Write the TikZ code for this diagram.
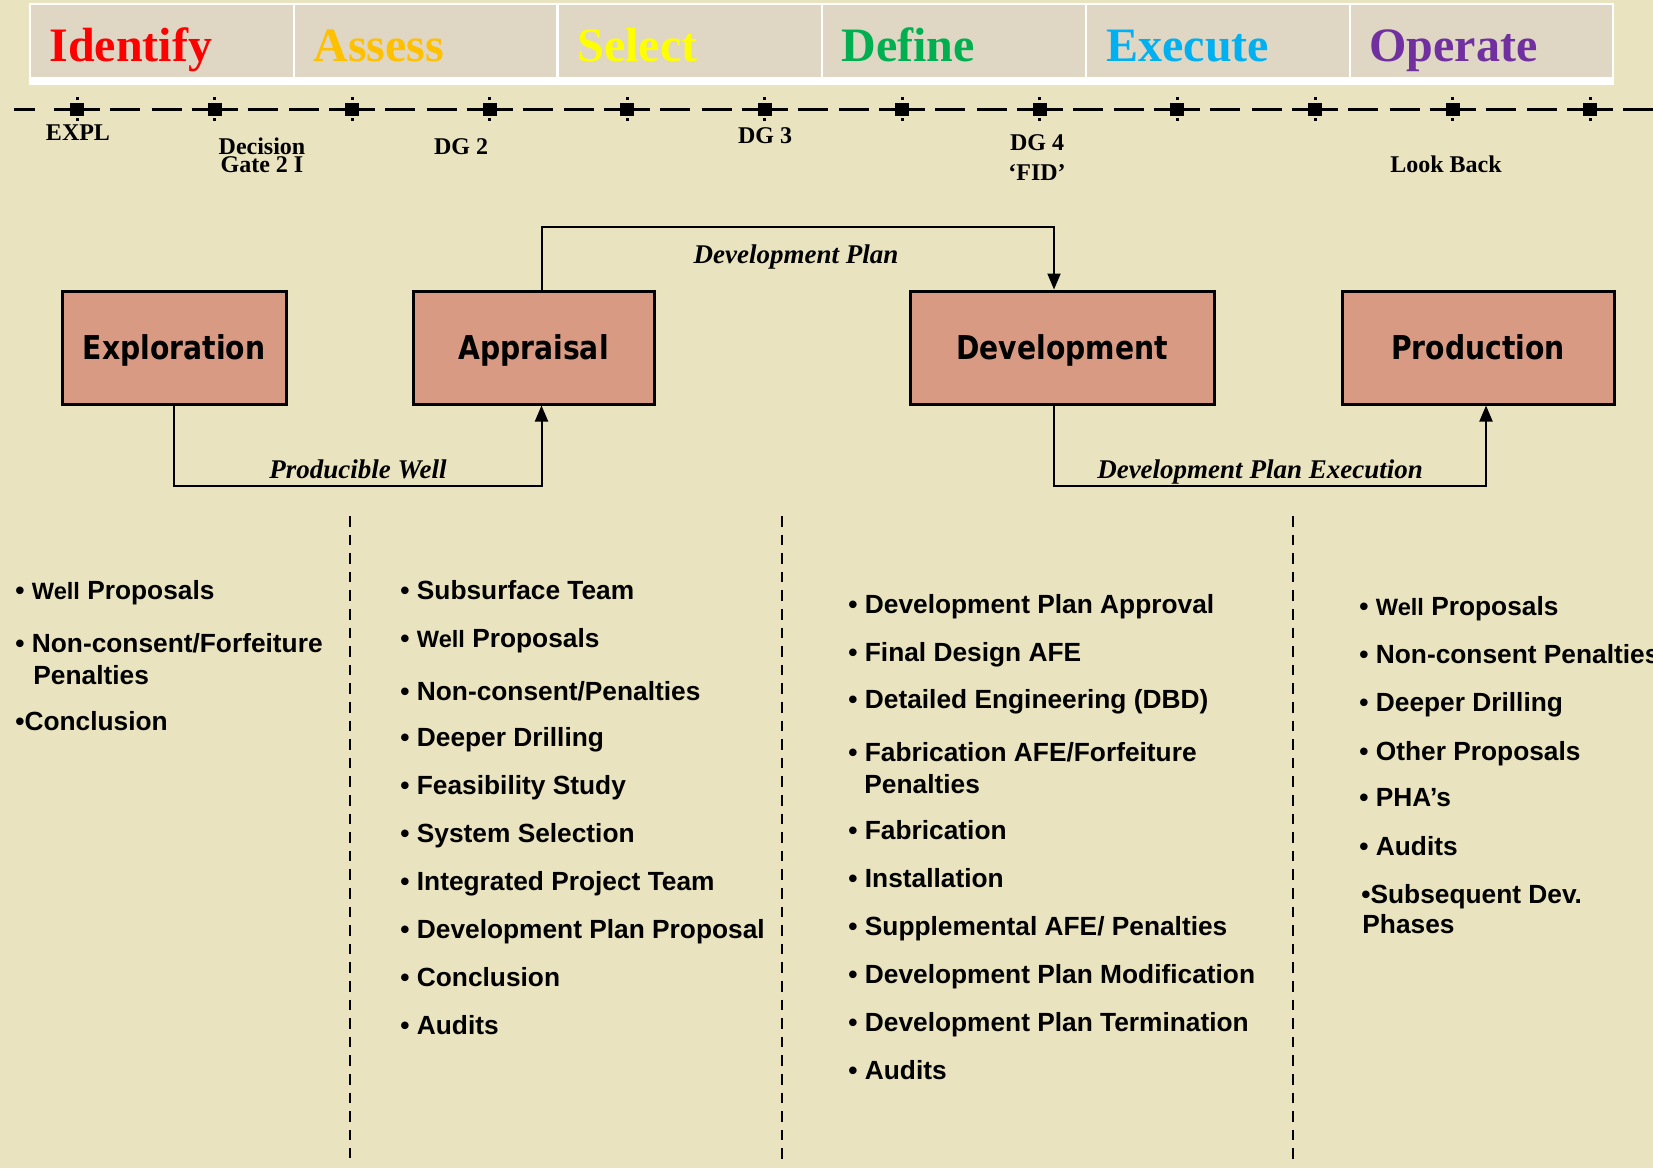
\documentclass[tikz,border=0pt]{standalone}
\usepackage{fontspec}
\setmainfont{Liberation Serif}
\newfontfamily\sansb{Liberation Sans}
\newfontfamily\boxfont{DejaVu Sans}[FakeStretch=0.86]
\usetikzlibrary{arrows.meta,calc}
\definecolor{bg}{RGB}{233,227,192}
\definecolor{cellbg}{RGB}{223,215,196}
\definecolor{boxfill}{RGB}{216,154,130}
\definecolor{cRed}{RGB}{255,0,0}
\definecolor{cOrange}{RGB}{255,192,0}
\definecolor{cYellow}{RGB}{255,255,0}
\definecolor{cGreen}{RGB}{0,176,80}
\definecolor{cCyan}{RGB}{0,176,240}
\definecolor{cPurple}{RGB}{112,48,160}
\begin{document}
\begin{tikzpicture}[x=0.5pt,y=-0.5pt,
  cell/.style={fill=cellbg,draw=none,inner sep=0pt,anchor=north west,minimum height=36pt},
  phase/.style={anchor=base west,inner sep=0pt,font=\bfseries\fontsize{24}{28}\selectfont},
  tl/.style={line width=1.5pt,black},
  marker/.style={fill=black,draw=none,inner sep=0pt,minimum width=7pt,minimum height=6.5pt},
  gate/.style={anchor=base,inner sep=0pt,font=\bfseries\fontsize{12}{13}\selectfont},
  stagebox/.style={draw=black,line width=1.5pt,fill=boxfill,inner sep=0pt,minimum height=56.5pt,
    text height=11.9pt,text depth=0pt,
    font=\boxfont\bfseries\fontsize{16.4}{18}\selectfont},
  conn/.style={line width=1pt,black},
  arr/.style={-{Triangle[length=8pt,width=6.5pt]}},
  flowlab/.style={anchor=base,inner sep=0pt,font=\bfseries\itshape\fontsize{13.5}{15}\selectfont},
  sep/.style={line width=1.3pt,dash pattern=on 5.3pt off 4pt},
  item/.style={anchor=base west,inner sep=0pt,font=\sansb\bfseries\fontsize{13.15}{15}\selectfont}
]
\useasboundingbox (0,0) rectangle (1653,1168);
\clip (0,0) rectangle (1653,1168);
\fill[bg] (0,0) rectangle (1653,1168);

% header
\node[fill=white,draw=none,inner sep=0pt,anchor=north west,minimum width=792.5pt,minimum height=41pt] (frame) at (29,3) {};
\node[cell,minimum width=131pt] (c1) at (31,5) {};
\node[cell,minimum width=130.5pt] (c2) at (295,5) {};
\node[cell,minimum width=131pt] (c3) at (559,5) {};
\node[cell,minimum width=131pt] (c4) at (823,5) {};
\node[cell,minimum width=131pt] (c5) at (1087,5) {};
\node[cell,minimum width=130.5pt] (c6) at (1351,5) {};
\node[phase,text=cRed] (t1) at (49,61) {Identify};
\node[phase,text=cOrange] (t2) at (313,61) {Assess};
\node[phase,text=cYellow] (t3) at (577,61) {Select};
\node[phase,text=cGreen] (t4) at (841,61) {Define};
\node[phase,text=cCyan] (t5) at (1106,61) {Execute};
\node[phase,text=cPurple] (t6) at (1369,61) {Operate};

% timeline
\draw[tl] (14,109) -- (35,109);
\foreach \x in {77,214.5,352,489.6,627.2,764.7,902.3,1039.9,1177.4,1315,1452.5} {
  \draw[tl] (\x+33,109) -- (\x+63,109);
  \draw[tl] (\x+74.5,109) -- (\x+104.5,109);
}
\draw[tl] (1623,109) -- (1653,109);
\foreach \i/\x in {1/77,2/214.5,3/352,4/489.6,5/627.2,6/764.7,7/902.3,8/1039.9,9/1177.4,10/1315,11/1452.5,12/1590} {
  \draw[tl] (\x-23,109) -- (\x+23,109);
  \node[marker] (m\i) at (\x,109) {};
  \fill (\x-1.5,97) rectangle (\x+1.5,100);
  \fill (\x-1.5,118) rectangle (\x+1.5,121);
}
\node[gate] (g1) at (78,140) {EXPL};
\node[gate] (g2a) at (262,154) {Decision};
\node[gate] (g2b) at (262,172) {Gate 2 I};
\node[gate] (g3) at (461,154) {DG 2};
\node[gate] (g4) at (765,143) {DG 3};
\node[gate] (g5a) at (1037,150) {DG 4};
\node[gate] (g5b) at (1037,180) {‘FID’};
\node[gate] (g6) at (1446,172) {Look Back};

% stage boxes
\node[stagebox,minimum width=112pt] (exp) at (174,347.5) {Exploration};
\node[stagebox,minimum width=120.5pt] (apr) at (533.5,347.5) {Appraisal};
\node[stagebox,minimum width=152pt] (dev) at (1062,347.5) {Development};
\node[stagebox,minimum width=136pt] (prod) at (1478,347.5) {Production};

% connectors
\draw[conn,arr] ($(apr.north)+(8,0)$) -- ++(0,-63) -| ($(dev.north)+(-8,0)$);
\draw[conn,arr] (exp.south) -- ++(0,80) -| ($(apr.south)+(8,0)$);
\draw[conn,arr] ($(dev.south)+(-8,0)$) -- ++(0,80) -| ($(prod.south)+(8,0)$);
\node[flowlab] (l1) at (796,263) {Development Plan};
\node[flowlab] (l2) at (358,478) {Producible Well};
\node[flowlab] (l3) at (1260,478) {Development Plan Execution};

% separators
\draw[sep] (350,516) -- (350,1158);
\draw[sep] (782,516) -- (782,1162);
\draw[sep] (1293,516) -- (1293,1162);

% column 1
\node[item] (a1) at (15,599) {• {\fontsize{11.8}{13}\selectfont Well} Proposals};
\node[item] (a2) at (15,652) {• Non-consent/Forfeiture};
\node[item] (a3) at (33,684) {Penalties};
\node[item] (a4) at (15,730) {•Conclusion};

% column 2
\node[item] (b1) at (400,599) {• Subsurface Team};
\node[item] (b2) at (400,647) {• {\fontsize{11.8}{13}\selectfont Well} Proposals};
\node[item] (b3) at (400,700) {• Non-consent/Penalties};
\node[item] (b4) at (400,746) {• Deeper Drilling};
\node[item] (b5) at (400,794) {• Feasibility Study};
\node[item] (b6) at (400,842) {• System Selection};
\node[item] (b7) at (400,890) {• Integrated Project Team};
\node[item] (b8) at (400,938) {• Development Plan Proposal};
\node[item] (b9) at (400,986) {• Conclusion};
\node[item] (b10) at (400,1034) {• Audits};

% column 3
\node[item] (d1) at (848,613) {• Development Plan Approval};
\node[item] (d2) at (848,661) {• Final Design AFE};
\node[item] (d3) at (848,708) {• Detailed Engineering (DBD)};
\node[item] (d4) at (848,761) {• Fabrication AFE/Forfeiture};
\node[item] (d5) at (864,793) {Penalties};
\node[item] (d6) at (848,839) {• Fabrication};
\node[item] (d7) at (848,887) {• Installation};
\node[item] (d8) at (848,935) {• Supplemental AFE/ Penalties};
\node[item] (d9) at (848,983) {• Development Plan Modification};
\node[item] (d10) at (848,1031) {• Development Plan Termination};
\node[item] (d11) at (848,1079) {• Audits};

% column 4
\node[item] (e1) at (1359,615) {• {\fontsize{11.8}{13}\selectfont Well} Proposals};
\node[item] (e2) at (1359,663) {• Non-consent Penalties};
\node[item] (e3) at (1359,711) {• Deeper Drilling};
\node[item] (e4) at (1359,760) {• Other Proposals};
\node[item] (e5) at (1359,806) {• PHA’s};
\node[item] (e6) at (1359,855) {• Audits};
\node[item] (e7) at (1361,903) {•Subsequent Dev.};
\node[item] (e8) at (1362,933) {Phases};
\end{tikzpicture}
\end{document}
